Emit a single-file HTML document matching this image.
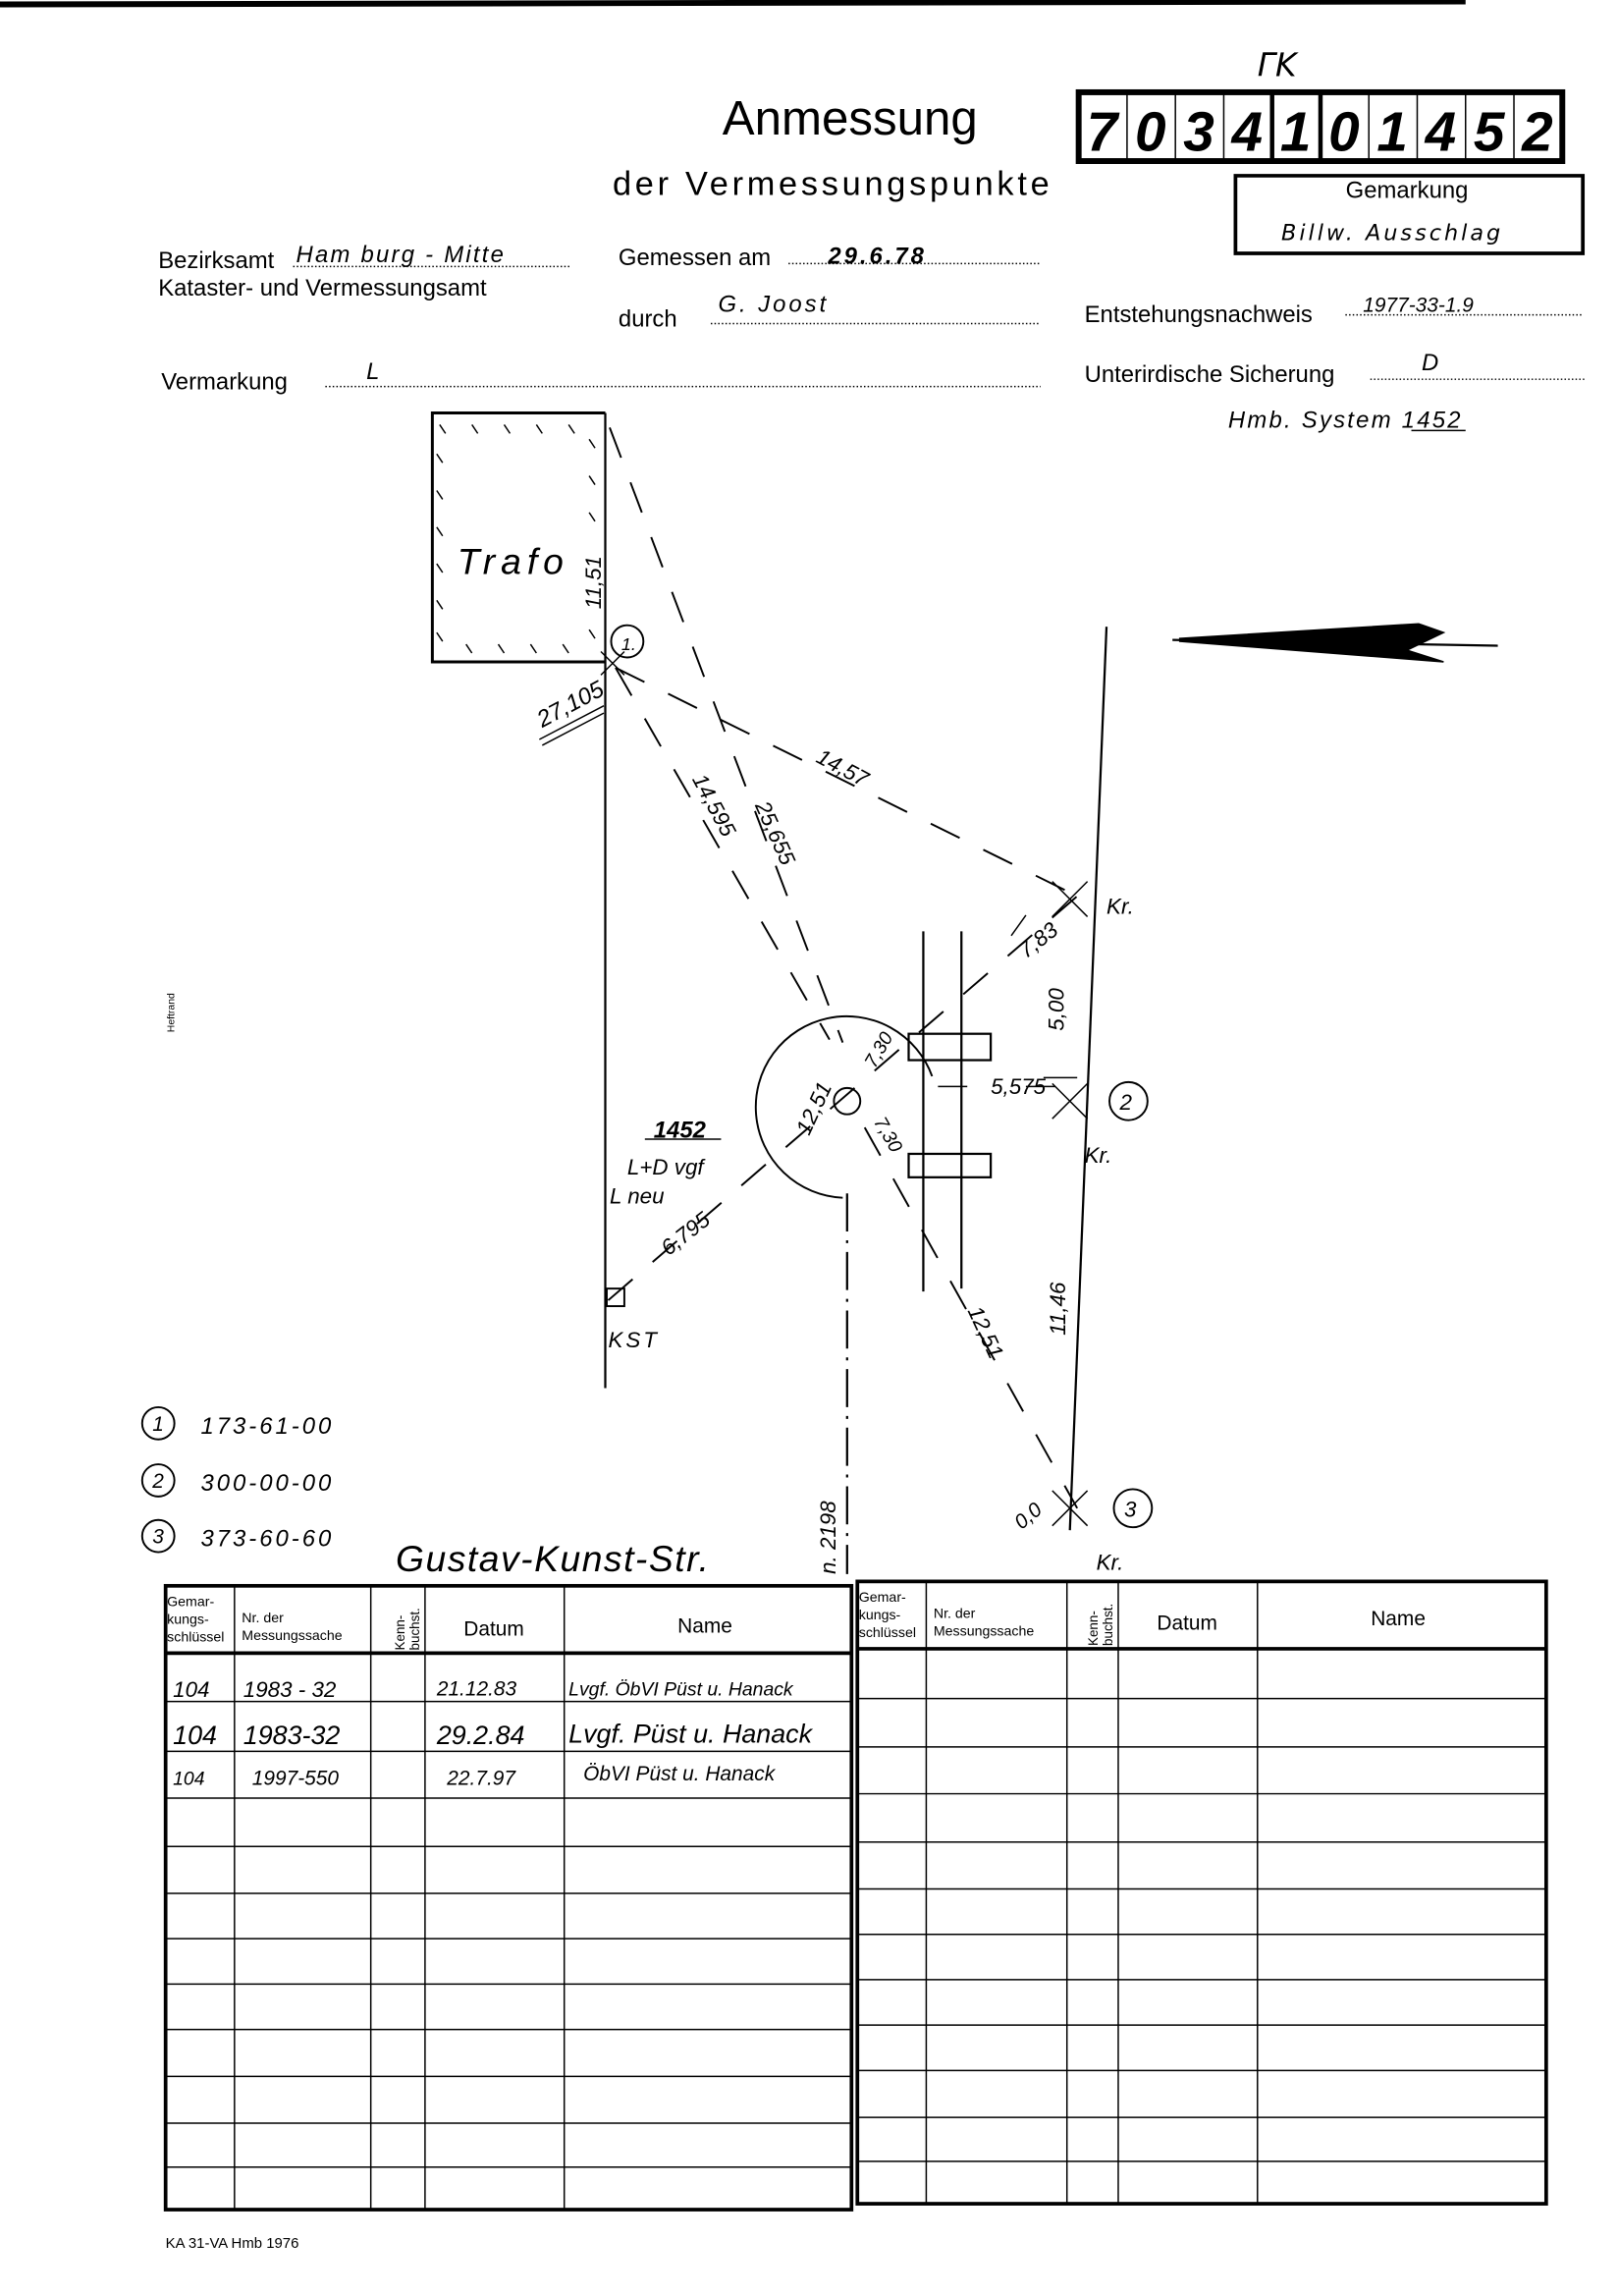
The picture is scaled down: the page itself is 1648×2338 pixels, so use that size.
<!DOCTYPE html>
<html><head><meta charset="utf-8"><style>
html,body{margin:0;padding:0;background:#fff;}
svg{display:block;}
text{font-family:"Liberation Sans",sans-serif;fill:#000;}
.h{font-family:"DejaVu Sans","Liberation Sans",sans-serif;font-style:italic;}
</style></head><body>
<svg width="1648" height="2338" viewBox="0 0 1104 1568" preserveAspectRatio="none" xmlns="http://www.w3.org/2000/svg">
<g stroke="#000" fill="none">
<!-- top line -->
<path d="M0 3 L1000 1" stroke-width="4"/>
<!-- number box -->
<rect x="736" y="63" width="330" height="47" stroke-width="4"/>
<path d="M769 63V110M802 63V110M835 63V110M868 63V110M901 63V110M934 63V110M967 63V110M1000 63V110M1033 63V110" stroke-width="1"/>
<path d="M868 63V110M901 63V110" stroke-width="3"/>
<!-- Gemarkung box -->
<path d="M843 120H1080V173H843Z" stroke-width="2.5"/>
<!-- dotted lines -->
<g stroke-dasharray="1 1.5" stroke-width="1">
<path d="M200 182H390M538 180H710M485 221H710M918 215H1080M222 264H710M935 259H1082"/>
</g>
<path d="M963 294H1000" stroke-width="1"/>
<!-- Trafo -->
<path d="M413 282H295V452H413" stroke-width="2"/>
<g stroke-width="1">
<path d="M300 290l4 6M322 290l4 6M344 290l4 6M366 290l4 6M388 290l4 6M298 310l4 6M298 335l4 6M298 360l4 6M298 385l4 6M298 410l4 6M298 432l4 6M318 440l4 6M340 440l4 6M362 440l4 6M384 440l4 6M402 300l4 6M402 325l4 6M402 350l4 6M402 430l4 6"/>
</g>
<!-- main verticals -->
<path d="M413 282V948" stroke-width="1.5"/>
<path d="M755 428L730 1045" stroke-width="1.5"/>
<!-- 27,105 underline -->
<path d="M368 505L412 482M370 509L412 487" stroke-width="1"/>
<!-- dashed lines -->
<g stroke-dasharray="22 18" stroke-width="1.3">
<path d="M416 292L575 712"/>
<path d="M420 456L566 710"/>
<path d="M420 456L735 612"/>
<path d="M415 888L735 612"/>
<path d="M590 770L735 1030"/>
</g>
<!-- point crosses -->
<path d="M718 602l24 24M742 602l-24 24M718 740l24 24M742 740l-24 24M718 1018l24 24M742 1018l-24 24M410 445l16 16M426 445l-16 16" stroke-width="1"/>
<!-- circles for point labels -->
<circle cx="428" cy="438" r="11" stroke-width="1.3"/>
<circle cx="770" cy="752" r="13" stroke-width="1.3"/>
<circle cx="773" cy="1030" r="13" stroke-width="1.3"/>
<circle cx="108" cy="972" r="11" stroke-width="1.3"/>
<circle cx="108" cy="1011" r="11" stroke-width="1.3"/>
<circle cx="108" cy="1049" r="11" stroke-width="1.3"/>
<!-- tree circle -->
<path d="M575 818 A62 62 0 1 1 636 735" stroke-width="1.3"/>
<circle cx="578" cy="752" r="9" stroke-width="1.3"/>
<path d="M578 815V1075" stroke-width="1.5" stroke-dasharray="26 6 2 6"/>
<!-- parallel lines -->
<path d="M630 636V882M656 636V880" stroke-width="1.5"/>
<rect x="620" y="706" width="56" height="18" stroke-width="1.5"/>
<rect x="620" y="788" width="56" height="16" stroke-width="1.5"/>
<path d="M640 742H660M700 742H720" stroke-width="1"/>
<!-- KST -->
<rect x="414" y="880" width="12" height="12" stroke-width="1.3"/>
<!-- underlines -->
<path d="M440 778H492M700 625l-10 14M712 736H735" stroke-width="1"/>
<!-- north arrow -->
<path d="M800 437L1022 441" stroke-width="1.5"/>
<path d="M805 436L968 426L985 432L960 444L985 452L805 438Z" fill="#000" stroke-width="1"/>
<!-- table left -->
<g stroke-width="1">
<path d="M160 1083V1509M253 1083V1509M290 1083V1509M385 1083V1509"/>
<path d="M113 1162H581M113 1196H581M113 1228H581M113 1261H581M113 1293H581M113 1324H581M113 1355H581M113 1386H581M113 1418H581M113 1450H581M113 1480H581"/>
<path d="M632 1080V1505M728 1080V1505M763 1080V1505M858 1080V1505"/>
<path d="M585 1160H1055M585 1193H1055M585 1225H1055M585 1258H1055M585 1290H1055M585 1321H1055M585 1352H1055M585 1383H1055M585 1414H1055M585 1446H1055M585 1476H1055"/>
</g>
<g stroke-width="2.5">
<rect x="113" y="1083" width="468" height="426"/>
<path d="M113 1129H581"/>
<rect x="585" y="1080" width="470" height="425"/>
<path d="M585 1126H1055"/>
</g>
</g>

<!-- Header text -->
<text x="858" y="52" class="h" font-size="22" font-style="normal">ΓK</text>
<text x="580" y="92" font-size="33" text-anchor="middle">Anmessung</text>
<g font-size="38" font-weight="bold" class="h" text-anchor="middle">
<text x="752" y="103">7</text><text x="785" y="103">0</text><text x="818" y="103">3</text><text x="851" y="103">4</text><text x="884" y="103">1</text><text x="917" y="103">0</text><text x="950" y="103">1</text><text x="983" y="103">4</text><text x="1016" y="103">5</text><text x="1049" y="103">2</text>
</g>
<text x="418" y="133" font-size="23" letter-spacing="2.5">der Vermessungspunkte</text>
<text x="960" y="135" font-size="16" text-anchor="middle">Gemarkung</text>
<text x="950" y="164" font-size="15" class="h" text-anchor="middle" letter-spacing="2">Billw. Ausschlag</text>
<g font-size="16">
<text x="108" y="183">Bezirksamt</text>
<text x="108" y="202">Kataster- und Vermessungsamt</text>
<text x="422" y="181">Gemessen am</text>
<text x="422" y="223">durch</text>
<text x="740" y="220">Entstehungsnachweis</text>
<text x="110" y="266">Vermarkung</text>
<text x="740" y="261">Unterirdische Sicherung</text>
</g>
<g class="h" font-size="16">
<text x="202" y="179" letter-spacing="1.5">Ham burg - Mitte</text>
<text x="565" y="180" font-weight="bold" letter-spacing="2">29.6.78</text>
<text x="490" y="213" letter-spacing="2">G. Joost</text>
<text x="930" y="213" font-size="14">1977-33-1.9</text>
<text x="250" y="259">L</text>
<text x="970" y="253">D</text>
<text x="838" y="292" letter-spacing="1.5">Hmb. System 1452</text>
</g>

<!-- drawing labels -->
<g class="h">
<text x="312" y="392" font-size="25" letter-spacing="4">Trafo</text>
<text transform="translate(410 416) rotate(-90)" font-size="15">11,51</text>
<text x="424" y="444" font-size="12">1.</text>
<text transform="translate(370 497) rotate(-28)" font-size="16">27,105</text>
<text transform="translate(556 520) rotate(28)" font-size="15">14,57</text>
<text transform="translate(472 532) rotate(62)" font-size="15">14,595</text>
<text transform="translate(515 550) rotate(66)" font-size="15">25,655</text>
<text x="755" y="624" font-size="15">Kr.</text>
<text transform="translate(700 655) rotate(-38)" font-size="15">7,83</text>
<text transform="translate(726 704) rotate(-90)" font-size="15">5,00</text>
<text x="676" y="747" font-size="15">5,575</text>
<text x="764" y="758" font-size="15">2</text>
<text x="740" y="794" font-size="15">Kr.</text>
<text transform="translate(552 776) rotate(-65)" font-size="15">12,51</text>
<text transform="translate(597 730) rotate(-60)" font-size="13">7,30</text>
<text transform="translate(596 766) rotate(60)" font-size="13">7,30</text>
<text x="446" y="777" font-size="16" font-weight="bold">1452</text>
<text x="428" y="802" font-size="15">L+D vgf</text>
<text x="416" y="822" font-size="15">L neu</text>
<text transform="translate(456 858) rotate(-38)" font-size="15">6,795</text>
<text x="415" y="920" font-size="15" letter-spacing="2">KST</text>
<text transform="translate(660 895) rotate(65)" font-size="15">12,51</text>
<text transform="translate(727 912) rotate(-90)" font-size="15">11,46</text>
<text transform="translate(697 1045) rotate(-40)" font-size="14">0,0</text>
<text x="767" y="1036" font-size="15">3</text>
<text x="748" y="1072" font-size="15">Kr.</text>
<text transform="translate(570 1075) rotate(-90)" font-size="15">n. 2198</text>
<text x="104" y="977" font-size="14">1</text>
<text x="104" y="1016" font-size="14">2</text>
<text x="104" y="1054" font-size="14">3</text>
<text x="137" y="979" font-size="16" letter-spacing="2">173-61-00</text>
<text x="137" y="1018" font-size="16" letter-spacing="2">300-00-00</text>
<text x="137" y="1056" font-size="16" letter-spacing="2">373-60-60</text>
<text x="270" y="1073" font-size="25" letter-spacing="1">Gustav-Kunst-Str.</text>
</g>
<text transform="translate(119 705) rotate(-90)" font-size="7">Heftrand</text>

<!-- table headers -->
<g font-size="9.5">
<text x="114" y="1097">Gemar-</text><text x="114" y="1109">kungs-</text><text x="114" y="1121">schlüssel</text>
<text x="165" y="1108">Nr. der</text><text x="165" y="1120">Messungssache</text>
<text transform="translate(276 1127) rotate(-90)" font-size="9">Kenn-</text>
<text transform="translate(286 1127) rotate(-90)" font-size="9">buchst.</text>
<text x="586" y="1094">Gemar-</text><text x="586" y="1106">kungs-</text><text x="586" y="1118">schlüssel</text>
<text x="637" y="1105">Nr. der</text><text x="637" y="1117">Messungssache</text>
<text transform="translate(749 1124) rotate(-90)" font-size="9">Kenn-</text>
<text transform="translate(759 1124) rotate(-90)" font-size="9">buchst.</text>
</g>
<g font-size="14" text-anchor="middle">
<text x="337" y="1117">Datum</text><text x="481" y="1115">Name</text>
<text x="810" y="1113">Datum</text><text x="954" y="1110">Name</text>
</g>
<g class="h">
<text x="118" y="1159" font-size="15">104</text>
<text x="166" y="1159" font-size="15">1983 - 32</text>
<text x="298" y="1158" font-size="14">21.12.83</text>
<text x="388" y="1158" font-size="13">Lvgf. ÖbVI Püst u. Hanack</text>
<text x="118" y="1191" font-size="18">104</text>
<text x="166" y="1191" font-size="18">1983-32</text>
<text x="298" y="1191" font-size="18">29.2.84</text>
<text x="388" y="1190" font-size="18">Lvgf. Püst u. Hanack</text>
<text x="118" y="1219" font-size="13">104</text>
<text x="172" y="1219" font-size="14">1997-550</text>
<text x="305" y="1219" font-size="14">22.7.97</text>
<text x="398" y="1216" font-size="14">ÖbVI Püst u. Hanack</text>
</g>
<text x="113" y="1535" font-size="10">KA 31-VA Hmb 1976</text>
</svg>
</body></html>
